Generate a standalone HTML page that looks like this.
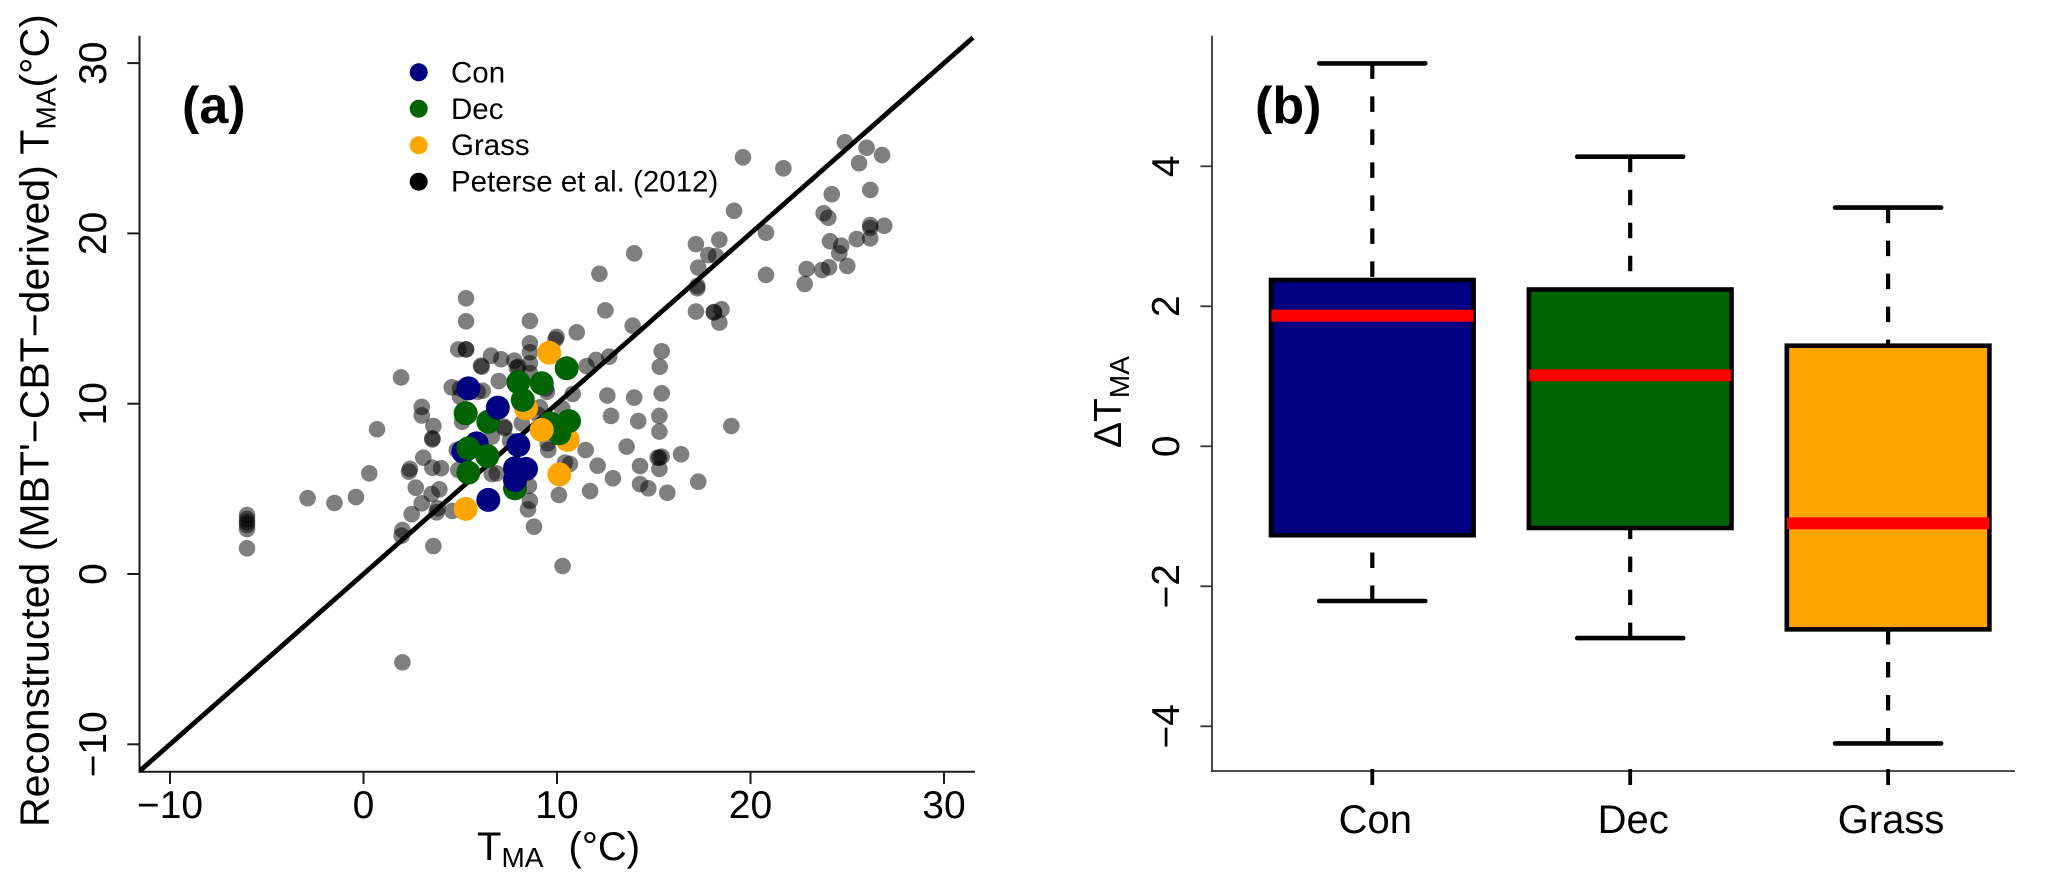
<!DOCTYPE html>
<html lang="en">
<head>
<meta charset="utf-8">
<title>Reconstructed vs measured TMA</title>
<style>
html,body{margin:0;padding:0;background:#fff;}
svg{display:block;}
text{font-family:"Liberation Sans",Arial,sans-serif;fill:#000;}
</style>
</head>
<body>
<svg id="fig" xmlns="http://www.w3.org/2000/svg" width="2067" height="886" viewBox="0 0 2067 886">
  <rect width="2067" height="886" fill="#fff"/>
  <g id="panelA"></g>
  <g id="panelB"></g>

  <text x="182" y="123" font-size="52" font-weight="bold">(a)</text>
  <text x="1255" y="123" font-size="52" font-weight="bold">(b)</text>

  <text transform="translate(48.6 827) rotate(-90)" font-size="41">Reconstructed (MBT'−CBT−derived) T<tspan font-size="28" dy="7">MA</tspan><tspan dy="-7">(°C)</tspan></text>
  <text x="477" y="860" font-size="40">T<tspan font-size="28" dy="7">MA</tspan><tspan dy="-7" dx="14"> (°C)</tspan></text>
  <text transform="translate(1121 448) rotate(-90)" font-size="39">ΔT<tspan font-size="28" dy="8">MA</tspan></text>

  <g>
    <circle cx="418.7" cy="72.3" r="9" fill="#000080"/>
    <text x="451" y="82.7" font-size="29.5">Con</text>
    <circle cx="418.7" cy="108.7" r="9" fill="#006400"/>
    <text x="451" y="118.9" font-size="29.5">Dec</text>
    <circle cx="418.7" cy="145.3" r="9" fill="#FFA500"/>
    <text x="451" y="155.2" font-size="29.5">Grass</text>
    <circle cx="418.7" cy="181.7" r="9" fill="#000"/>
    <text x="451" y="191.5" font-size="29.5">Peterse et al. (2012)</text>
  </g>
</svg>
<script>
// ---------- Panel (a) data ----------
const axisTicksA = [-10, 0, 10, 20, 30];
const tickLabelsA = ["−10", "0", "10", "20", "30"];
const petersePointsX = [5.30,5.30,8.60,11.02,9.98,9.92,4.90,5.30,5.30,8.60,8.60,6.59,7.11,6.07,6.11,7.79,7.92,8.00,8.60,8.60,1.94,6.99,4.56,4.99,6.16,5.90,9.42,10.81,3.01,3.01,3.61,3.56,3.56,8.18,7.28,7.28,6.63,9.12,9.03,10.27,7.57,4.82,9.55,9.52,3.09,2.40,2.35,3.56,4.01,10.41,4.90,6.63,6.88,2.70,3.92,3.52,8.55,10.10,8.60,8.50,3.01,3.83,3.78,2.49,4.59,2.01,1.97,3.61,8.81,10.29,2.01,-6.02,-6.02,-6.02,-6.02,-6.02,-6.02,-2.89,-1.50,-0.39,0.70,0.30,10.67,11.71,12.89,14.29,14.72,15.70,17.30,12.10,14.29,11.48,13.60,15.20,15.41,15.29,16.41,15.29,12.79,14.20,15.29,15.29,19.01,12.60,13.99,15.41,11.53,12.02,12.70,15.41,15.31,13.91,12.50,12.19,13.99,17.18,18.39,17.30,17.82,18.22,17.25,17.25,17.18,18.50,18.11,18.11,18.39,19.15,19.61,21.70,20.80,20.80,24.88,26.00,26.80,25.61,24.20,26.19,23.78,24.02,26.19,26.19,26.91,26.19,25.49,24.11,24.69,24.59,25.00,24.06,23.70,22.90,22.80,4.99,9.48,5.10];
const petersePointsY = [16.19,14.84,14.86,14.19,13.92,13.77,13.19,13.19,13.19,13.55,13.02,12.82,12.61,12.23,12.17,12.53,12.11,12.17,12.37,11.80,11.54,11.33,10.96,10.90,10.76,10.70,10.90,10.57,9.81,9.31,8.69,7.97,7.90,8.85,8.65,8.56,8.06,9.79,9.34,9.73,7.83,7.28,7.28,7.67,6.83,6.17,6.01,6.24,6.21,6.54,6.11,5.87,5.91,5.07,4.97,4.70,5.18,4.64,4.30,3.80,4.15,3.86,3.62,3.51,3.70,2.58,2.25,1.64,2.78,0.47,-5.19,1.51,3.46,3.23,3.05,2.88,2.64,4.45,4.17,4.52,8.50,5.91,6.46,4.87,5.62,5.28,5.03,4.77,5.42,6.36,6.34,7.28,7.48,6.83,6.89,6.83,7.03,6.17,9.28,8.98,9.28,8.36,8.69,10.48,10.36,10.61,12.21,12.57,12.76,13.08,12.17,14.58,15.48,17.63,18.83,19.37,19.63,17.99,18.73,18.67,16.91,16.78,15.41,15.54,15.38,15.36,14.76,21.33,24.47,23.82,20.04,17.56,25.35,25.03,24.60,24.12,22.30,22.55,21.18,20.92,20.49,20.32,20.45,19.71,19.67,19.54,19.28,18.83,18.09,18.01,17.85,17.91,17.03,10.41,10.70,8.94];
const sampleGroups = ["Con","Con","Dec","Dec","Dec","Grass","Dec","Dec","Dec","Grass","Grass","Grass","Grass","Grass","Dec","Dec","Dec","Dec","Dec","Dec","Con","Con","Dec","Con","Con","Con","Con","Con"];
const sampleX = [5.85,5.16,5.42,6.40,5.42,10.55,10.12,9.64,10.62,9.21,8.40,9.60,10.12,5.28,10.50,8.00,9.21,8.23,5.28,6.45,5.42,6.94,7.83,8.00,7.83,8.40,7.83,6.45];
const sampleY = [7.67,7.18,7.38,6.93,5.95,7.87,8.26,8.85,8.98,8.46,9.73,12.99,5.85,3.82,12.08,11.26,11.20,10.22,9.44,8.94,10.90,9.77,5.03,7.57,6.21,6.17,5.52,4.35];
// ---------- Panel (b) data ----------
const boxCategories = ["Con", "Dec", "Grass"];
const boxQ3 = [2.376, 2.24, 1.437];
const boxMedian = [1.866, 1.014, -1.10];
const boxQ1 = [-1.27, -1.167, -2.615];
const whiskerHigh = [5.47, 4.137, 3.41];
const whiskerLow = [-2.21, -2.74, -4.245];
const axisTicksB = [-4, -2, 0, 2, 4];
const tickLabelsB = ["−4", "−2", "0", "2", "4"];

// ---------- Axis functions ----------
function xA(v){ return 363.5 + 19.35 * v; }
function yA(v){ return 574 - 17.03 * v; }
function xB(p){ return 1372.3 + 257.9 * p; }
function yB(v){ return 446.3 - 70 * v; }
const groupFill = {Con:"#000080", Dec:"#006400", Grass:"#FFA500"};

const NS = "http://www.w3.org/2000/svg";
const panelA = document.getElementById("panelA");
const panelB = document.getElementById("panelB");
function make(tag, attrs, parent){
  const el = document.createElementNS(NS, tag);
  for (const k in attrs) el.setAttribute(k, attrs[k]);
  parent.appendChild(el);
  return el;
}

// ----- Panel a: axes
let el = make("line", {x1:139.5,y1:35.7,x2:139.5,y2:772.7,stroke:"#1a1a1a","stroke-width":2}, panelA);


el = make("line", {x1:138.5,y1:771.7,x2:975,y2:771.7,stroke:"#1a1a1a","stroke-width":2}, panelA);



axisTicksA.forEach(function(t, i){
  let m = make("line", {x1:xA(t),y1:771.7,x2:xA(t),y2:784,stroke:"#1a1a1a","stroke-width":2}, panelA);
  
  
  m = make("line", {x1:127.3,y1:yA(t),x2:139.5,y2:yA(t),stroke:"#1a1a1a","stroke-width":2}, panelA);
  
  
  m = make("text", {x:xA(t),y:818,"font-size":39,"text-anchor":"middle"}, panelA);
  m.textContent = tickLabelsA[i];
  
  
  m = make("text", {transform:"translate(106 "+yA(t)+") rotate(-90)","font-size":39,"text-anchor":"middle"}, panelA);
  m.textContent = tickLabelsA[i];
  
  
});

// ----- Panel a: Peterse points (translucent black)
petersePointsX.forEach(function(x, i){
  const c = make("circle", {cx:xA(x),cy:yA(petersePointsY[i]),r:8.3,fill:"#000","fill-opacity":0.5}, panelA);
  
  
});

// ----- Panel a: 1:1 line
el = make("line", {x1:xA(-11.55),y1:yA(-11.55),x2:xA(31.5),y2:yA(31.5),stroke:"#000","stroke-width":4.8}, panelA);



// ----- Panel a: samples, in drawing order
sampleX.forEach(function(x, i){
  const c = make("circle", {cx:xA(x),cy:yA(sampleY[i]),r:12,fill:groupFill[sampleGroups[i]]}, panelA);
  
  
});

// ----- Panel b: axes
el = make("line", {x1:1212,y1:35.7,x2:1212,y2:772,stroke:"#333","stroke-width":1.8}, panelB);


el = make("line", {x1:1211,y1:771,x2:2015,y2:771,stroke:"#333","stroke-width":1.8}, panelB);



axisTicksB.forEach(function(t, i){
  let m = make("line", {x1:1200.4,y1:yB(t),x2:1212,y2:yB(t),stroke:"#333","stroke-width":1.8}, panelB);
  
  
  m = make("text", {transform:"translate(1179 "+yB(t)+") rotate(-90)","font-size":39,"text-anchor":"middle"}, panelB);
  m.textContent = tickLabelsB[i];
  
  
});

// ----- Panel b: boxes
const boxFill = ["#000080", "#006400", "#FFA500"];
boxCategories.forEach(function(cat, i){
  const cx = xB(i);
  const name = cat.toLowerCase();
  let m = make("line", {x1:cx,y1:769,x2:cx,y2:785,stroke:"#000","stroke-width":3.8}, panelB);
  
  
  m = make("text", {x:cx+3,y:833,"font-size":40,"text-anchor":"middle"}, panelB);
  m.textContent = cat;
  
  

  m = make("line", {x1:cx,y1:yB(whiskerHigh[i]),x2:cx,y2:yB(boxQ3[i]),stroke:"#000","stroke-width":4.2,"stroke-dasharray":"15.5 17.5"}, panelB);
  
  
  m = make("line", {x1:cx,y1:yB(whiskerLow[i]),x2:cx,y2:yB(boxQ1[i]),stroke:"#000","stroke-width":4.2,"stroke-dasharray":"15.5 17.5"}, panelB);
  
  
  m = make("line", {x1:cx-53,y1:yB(whiskerHigh[i]),x2:cx+53,y2:yB(whiskerHigh[i]),stroke:"#000","stroke-width":4.6,"stroke-linecap":"round"}, panelB);
  
  
  m = make("line", {x1:cx-53,y1:yB(whiskerLow[i]),x2:cx+53,y2:yB(whiskerLow[i]),stroke:"#000","stroke-width":4.6,"stroke-linecap":"round"}, panelB);
  
  
  m = make("rect", {x:cx-101.3,y:yB(boxQ3[i]),width:202.6,height:yB(boxQ1[i])-yB(boxQ3[i]),fill:boxFill[i],stroke:"#000","stroke-width":4.6}, panelB);
  
  
  m = make("rect", {x:cx-101,y:yB(boxMedian[i])-6,width:202,height:12,fill:"#FF0000"}, panelB);
  
  
});
</script>
</body>
</html>
